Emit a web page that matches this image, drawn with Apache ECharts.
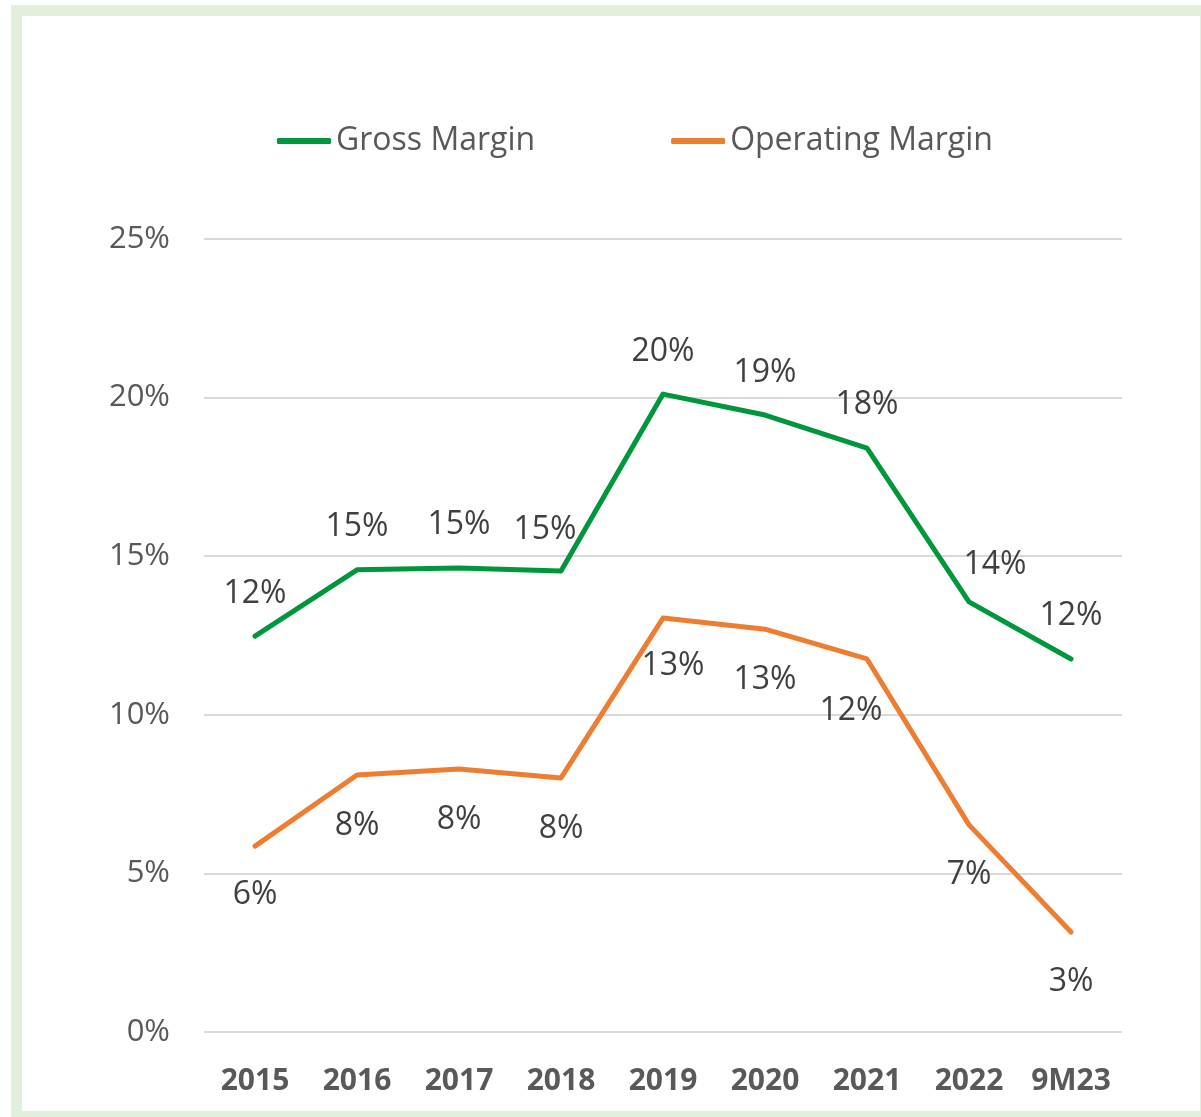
<!DOCTYPE html>
<html>
<head>
<meta charset="utf-8">
<script src="https://cdn.jsdelivr.net/npm/echarts@6/dist/echarts.min.js"></script>
<style>
  html, body { margin: 0; padding: 0; background: #fff; }
  #frame {
    position: absolute; left: 11px; top: 5px; width: 1200px; height: 1117px;
    border: 11px solid #e2efda; box-sizing: border-box;
  }
  #chart { position: absolute; left: 0; top: 0; width: 1201px; height: 1117px; }
</style>
</head>
<body>
<div id="frame"></div>
<div id="chart"></div>
<script>
const categories = ['2015', '2016', '2017', '2018', '2019', '2020', '2021', '2022', '9M23']
const grossMargin = [12.48, 14.57, 14.63, 14.53, 20.11, 19.45, 18.41, 13.56, 11.76]
const operatingMargin = [5.86, 8.1, 8.29, 8.01, 13.05, 12.7, 11.76, 6.53, 3.15]
const yTicks = [0, 5, 10, 15, 20, 25]

// label offsets from each point (style only)
const grossOffsets = [[0, -42], [0, -43], [0, -43], [-16, -41], [0, -42], [0, -42], [0, -43], [26, -37], [0, -43]]
const opOffsets = [[0, 49], [0, 51], [0, 51], [0, 51], [10, 48], [0, 51], [-16, 52], [0, 50], [0, 50]]

const FONT = 'Open Sans, sans-serif'

const chart = echarts.init(document.getElementById('chart'))

function makeSeries(name, values, offsets, color) {
  return {
    name,
    type: 'line',
    symbol: 'circle',
    symbolSize: 2,
    lineStyle: { color, width: 5, cap: 'round', join: 'round' },
    itemStyle: { color },
    data: values.map((v, i) => ({
      value: v,
      label: { offset: offsets[i] },
    })),
    label: {
      show: true,
      position: 'inside',
      color: '#404040',
      fontSize: 32,
      fontFamily: FONT,
      formatter: (p) => Math.round(p.value) + '%',
    },
    emphasis: { disabled: true },
    animation: false,
  }
}

chart.setOption({
  backgroundColor: 'transparent',
  animation: false,
  legend: {
    top: 120,
    left: 272,
    itemWidth: 54,
    itemHeight: 6,
    itemGap: 136,
    icon: 'roundRect',
    textStyle: { color: '#595959', fontSize: 32, fontFamily: FONT },
    data: ['Gross Margin', 'Operating Margin'],
  },
  grid: { left: 204, right: 79, top: 239, bottom: 85 },
  xAxis: {
    type: 'category',
    data: categories,
    axisLine: { show: false },
    axisTick: { show: false },
    axisLabel: {
      interval: 0,
      color: '#595959',
      fontSize: 30,
      fontWeight: 'bold',
      fontFamily: FONT,
      margin: 34,
    },
  },
  yAxis: {
    type: 'value',
    min: yTicks[0],
    max: yTicks[yTicks.length - 1],
    interval: 5,
    axisLine: { show: false },
    axisTick: { show: false },
    axisLabel: {
      color: '#595959',
      fontSize: 31,
      fontFamily: FONT,
      margin: 34,
      formatter: '{value}%',
    },
    splitLine: { lineStyle: { color: '#d9d9d9', width: 2 } },
  },
  series: [
    makeSeries('Gross Margin', grossMargin, grossOffsets, '#00963c'),
    makeSeries('Operating Margin', operatingMargin, opOffsets, '#ed7d31'),
  ],
})
</script>
</body>
</html>
